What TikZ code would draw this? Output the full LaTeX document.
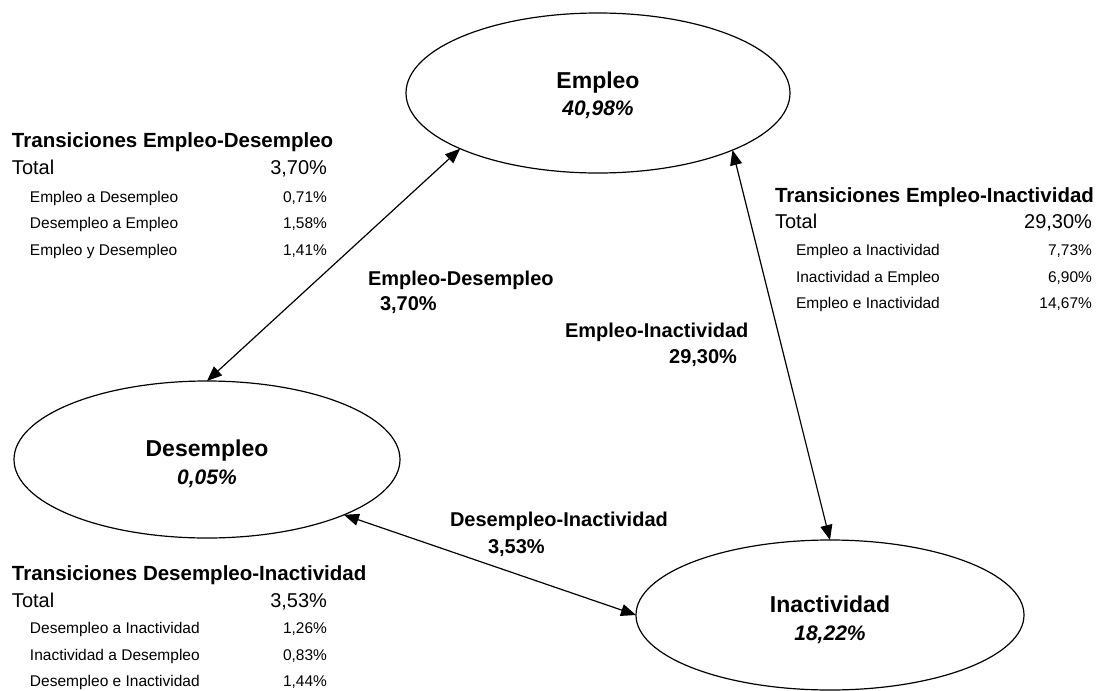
\documentclass[tikz,border=0pt]{standalone}
\usepackage{fontspec}
\setmainfont{Liberation Sans}
\usetikzlibrary{arrows.meta,shapes.geometric}
\tikzset{
  state/.style={draw=black, line width=1.2pt, ellipse, inner sep=0pt, outer sep=0pt},
  txt/.style={inner sep=0pt, outer sep=0pt},
  stname/.style={txt, anchor=base, font=\fontsize{23}{27}\selectfont\bfseries},
  stpct/.style={txt, anchor=base, font=\fontsize{21}{25}\selectfont\bfseries\itshape},
  elab/.style={txt, font=\fontsize{20}{24}\selectfont\bfseries},
  ttitle/.style={txt, anchor=base west, font=\fontsize{20.5}{24}\selectfont\bfseries},
  ttotal/.style={txt, font=\fontsize{20}{24}\selectfont},
  trow/.style={txt, font=\fontsize{15.5}{18}\selectfont},
  conn/.style={line width=1.2pt, {Triangle[length=15pt,width=12pt]}-{Triangle[length=15pt,width=12pt]}}
}
\begin{document}
\begin{tikzpicture}[x=1pt,y=-1pt]
\useasboundingbox (0,0) rectangle (1104,691);
% states
\node[state, minimum width=384pt, minimum height=160pt] (E) at (598,93) {};
\node[state, minimum width=386pt, minimum height=157pt] (D) at (207,459.5) {};
\node[state, minimum width=388pt, minimum height=150pt] (I) at (830,615) {};
\node[stname] (En) at (598,88) {Empleo};
\node[stpct] (Ep) at (598,115) {40,98\%};
\node[stname] (Dn) at (207,456) {Desempleo};
\node[stpct] (Dp) at (207,484) {0,05\%};
\node[stname] (In) at (830,612) {Inactividad};
\node[stpct] (Ip) at (830,640) {18,22\%};
% connectors
\draw[conn] (E.202.7) -- (D.90);
\draw[conn] (E.337.4) -- (I.90);
\draw[conn] (D.-22.3) -- (I.180);
% connector labels
\node[elab, anchor=base west] (l1a) at (368,285) {Empleo-Desempleo};
\node[elab, anchor=base west] (l1b) at (380,310) {3,70\%};
\node[elab, anchor=base west] (l2a) at (565,337) {Empleo-Inactividad};
\node[elab, anchor=base east] (l2b) at (737,363) {29,30\%};
\node[elab, anchor=base west] (l3a) at (450,526) {Desempleo-Inactividad};
\node[elab, anchor=base west] (l3b) at (488,553) {3,53\%};
% table Empleo-Desempleo
\node[ttitle] (t1) at (12,147) {Transiciones Empleo-Desempleo};
\node[ttotal, anchor=base west] (t1t) at (12,174) {Total};
\node[ttotal, anchor=base east] (t1v) at (327,174) {3,70\%};
\node[trow, anchor=base west] (t1r1) at (30,202) {Empleo a Desempleo};
\node[trow, anchor=base east] (t1v1) at (327,202) {0,71\%};
\node[trow, anchor=base west] (t1r2) at (30,228) {Desempleo a Empleo};
\node[trow, anchor=base east] (t1v2) at (327,228) {1,58\%};
\node[trow, anchor=base west] (t1r3) at (30,255) {Empleo y Desempleo};
\node[trow, anchor=base east] (t1v3) at (327,255) {1,41\%};
% table Empleo-Inactividad
\node[ttitle] (t2) at (775,202) {Transiciones Empleo-Inactividad};
\node[ttotal, anchor=base west] (t2t) at (775,228) {Total};
\node[ttotal, anchor=base east] (t2v) at (1092,228) {29,30\%};
\node[trow, anchor=base west] (t2r1) at (796,255) {Empleo a Inactividad};
\node[trow, anchor=base east] (t2v1) at (1092,255) {7,73\%};
\node[trow, anchor=base west] (t2r2) at (796,282) {Inactividad a Empleo};
\node[trow, anchor=base east] (t2v2) at (1092,282) {6,90\%};
\node[trow, anchor=base west] (t2r3) at (796,308) {Empleo e Inactividad};
\node[trow, anchor=base east] (t2v3) at (1092,308) {14,67\%};
% table Desempleo-Inactividad
\node[ttitle] (t3) at (12,580) {Transiciones Desempleo-Inactividad};
\node[ttotal, anchor=base west] (t3t) at (12,607) {Total};
\node[ttotal, anchor=base east] (t3v) at (327,607) {3,53\%};
\node[trow, anchor=base west] (t3r1) at (30,633) {Desempleo a Inactividad};
\node[trow, anchor=base east] (t3v1) at (327,633) {1,26\%};
\node[trow, anchor=base west] (t3r2) at (30,660) {Inactividad a Desempleo};
\node[trow, anchor=base east] (t3v2) at (327,660) {0,83\%};
\node[trow, anchor=base west] (t3r3) at (30,686) {Desempleo e Inactividad};
\node[trow, anchor=base east] (t3v3) at (327,686) {1,44\%};
\end{tikzpicture}
\end{document}
